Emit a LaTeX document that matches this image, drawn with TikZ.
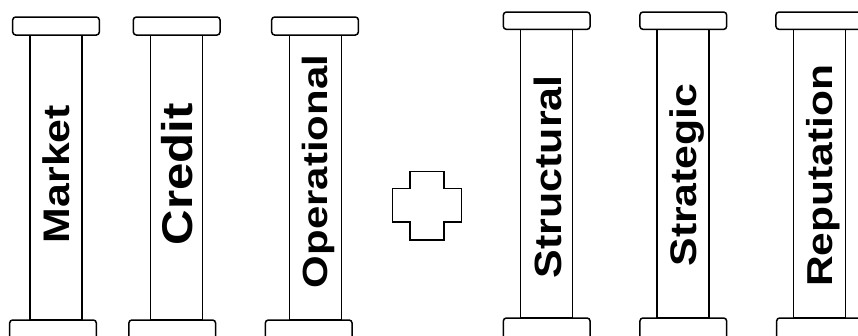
\documentclass[tikz,border=0pt]{standalone}
\usepackage{fontspec}
\setmainfont{Liberation Sans}
\newcommand\plabel[3]{\resizebox{#2pt}{\height}{\fontsize{#1pt}{#1pt}\selectfont\bfseries #3}}
\tikzset{
  capbox/.style={draw, fill=white, rounded corners=3pt, line width=1.5pt,
    minimum width=86.7pt, minimum height=18pt, inner sep=0pt},
  basebox/.style={capbox, minimum height=26pt},
  shaftbox/.style={draw, line width=1.4pt, minimum width=52pt, inner sep=0pt},
  lbl/.style={rotate=90, inner sep=0pt, text depth=0pt}
}
\begin{document}
\begin{tikzpicture}[x=1pt,y=-1pt]
\useasboundingbox (0,0) rectangle (858,335);
\clip (0,0) rectangle (858,335);
% group 1
\node[shaftbox, minimum height=285pt] (s1) at (56,177.5) {};
\node[shaftbox, minimum height=285pt] (s2) at (176.7,177.5) {};
\node[shaftbox, minimum height=285pt] (s3) at (315.3,177.5) {};
\node[capbox] (t1) at (56,26) {};
\node[capbox] (t2) at (176.7,26) {};
\node[capbox] (t3) at (315,26) {};
\node[basebox] (b1) at (53,333) {};
\node[basebox] (b2) at (172.2,333) {};
\node[basebox] (b3) at (308.7,333) {};
% group 2
\node[shaftbox, minimum height=288.7pt] (s4) at (546.7,173.65) {};
\node[shaftbox, minimum height=288.7pt] (s5) at (682.9,173.65) {};
\node[shaftbox, minimum height=288.7pt] (s6) at (819.7,173.65) {};
\node[capbox, minimum height=17.3pt] (t4) at (546.7,20.7) {};
\node[capbox, minimum height=17.3pt] (t5) at (683.3,20.7) {};
\node[capbox, minimum height=17.3pt] (t6) at (819.3,20.7) {};
\node[basebox] (b4) at (546.7,331) {};
\node[basebox] (b5) at (683.3,331) {};
\node[basebox] (b6) at (820,331) {};
% labels
\node[lbl] (l1) at (56.5,174) {\plabel{37}{138}{Market}};
\node[lbl] (l2) at (176.5,174) {\plabel{43}{142}{Credit}};
\node[lbl] (l3) at (315.3,171.5) {\plabel{35}{233}{Operational}};
\node[lbl] (l4) at (547.5,176.7) {\plabel{38}{203}{Structural}};
\node[lbl] (l5) at (683,175) {\plabel{37}{183}{Strategic}};
\node[lbl] (l6) at (819,175.8) {\plabel{36}{222}{Reputation}};
% plus sign
\draw[line width=1.5pt] (392.7,188.3) -- (410,188.3) -- (410,171.3) -- (444,171.3)
  -- (444,188.3) -- (461.7,188.3) -- (461.7,222) -- (444,222) -- (444,240)
  -- (410,240) -- (410,222) -- (392.7,222) -- cycle;
\end{tikzpicture}
\end{document}
